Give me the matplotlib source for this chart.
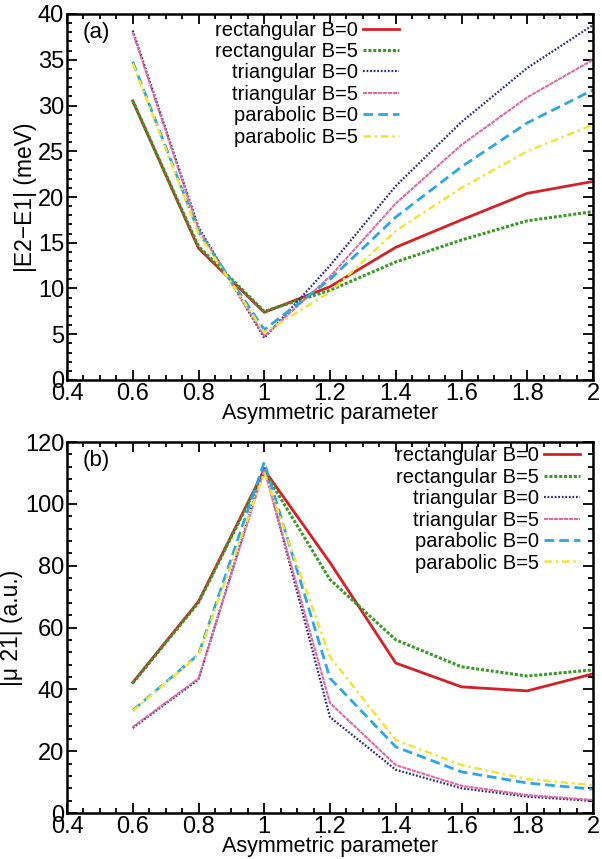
import matplotlib
matplotlib.use("Agg")
import matplotlib.pyplot as plt
from matplotlib.ticker import MultipleLocator, FuncFormatter

plt.rcParams['font.family'] = ['Liberation Sans', 'DejaVu Sans']

x = [0.6, 0.8, 1.0, 1.2, 1.4, 1.6, 1.8, 2.0]

labels = ["rectangular B=0", "rectangular B=5", "triangular B=0",
          "triangular B=5", "parabolic B=0", "parabolic B=5"]

# Panel (a): |E2-E1| (meV)
a_rect0 = [30.5, 14.4, 7.4, 10.2, 14.5, 17.5, 20.4, 21.7]
a_rect5 = [30.5, 14.6, 7.5, 9.8, 12.9, 15.3, 17.4, 18.4]
a_tri0 = [38.2, 16.7, 4.6, 12.5, 21.2, 28.2, 34.1, 38.8]
a_tri5 = [38.0, 16.5, 4.8, 11.3, 19.3, 25.7, 30.9, 35.0]
a_para0 = [34.8, 16.2, 5.5, 11.0, 17.8, 23.3, 28.1, 31.7]
a_para5 = [34.6, 16.0, 5.2, 9.6, 16.3, 21.0, 25.0, 27.9]

# Panel (b): |mu 21| (a.u.)
b_rect0 = [42.2, 68.4, 111.0, 81.0, 48.5, 40.8, 39.5, 45.0]
b_rect5 = [42.0, 68.0, 110.5, 75.5, 56.0, 47.3, 44.3, 46.3]
b_tri0 = [27.5, 43.2, 112.0, 31.0, 14.0, 8.0, 5.3, 3.9]
b_tri5 = [27.8, 43.5, 111.0, 35.6, 15.5, 8.8, 5.8, 4.2]
b_para0 = [33.2, 51.3, 113.5, 43.6, 21.4, 13.3, 9.7, 7.7]
b_para5 = [33.0, 51.0, 110.0, 50.5, 23.6, 15.5, 11.0, 9.0]

styles = [
    dict(color='#d42027', lw=2.0, ls='-'),
    dict(color='#3a9a28', lw=2.2, ls=(0, (1.0, 0.6))),
    dict(color='#2b2a7e', lw=1.6, ls=(0, (0.8, 0.8))),
    dict(color='#de6aa4', lw=1.5, ls=(0, (2.0, 0.4))),
    dict(color='#2ea6e2', lw=2.0, ls=(0, (3.5, 1.8))),
    dict(color='#f2e437', lw=1.8, ls=(0, (3.0, 1.5, 1.0, 1.5))),
]

fig = plt.figure(figsize=(6.02, 8.59), dpi=100)
axA = fig.add_axes([67/602, 1-380/859, 526/602, 366/859])
axB = fig.add_axes([67/602, 1-813/859, 526/602, 371/859])


def fmt_x(v, pos):
    if abs(v - round(v)) < 1e-9:
        return "%d" % round(v)
    return "%.1f" % v


def style_axes(ax, ymax, ymaj, ymin):
    ax.set_xlim(0.4, 2.0)
    ax.set_ylim(0, ymax)
    ax.xaxis.set_major_locator(MultipleLocator(0.2))
    ax.xaxis.set_minor_locator(MultipleLocator(0.05))
    ax.yaxis.set_major_locator(MultipleLocator(ymaj))
    ax.yaxis.set_minor_locator(MultipleLocator(ymin))
    ax.xaxis.set_major_formatter(FuncFormatter(fmt_x))
    ax.tick_params(which='both', direction='in', top=True, right=True,
                   width=1.3, labelsize=17, pad=2)
    ax.tick_params(which='major', length=7)
    ax.tick_params(which='minor', length=3.5)
    for s in ax.spines.values():
        s.set_linewidth(1.8)
    ax.set_xlabel("Asymmetric parameter", fontsize=15.5, labelpad=-1)


seriesA = [a_rect0, a_rect5, a_tri0, a_tri5, a_para0, a_para5]
seriesB = [b_rect0, b_rect5, b_tri0, b_tri5, b_para0, b_para5]

for ys, lab, st in zip(seriesA, labels, styles):
    axA.plot(x, ys, label=lab, **st)
for ys, lab, st in zip(seriesB, labels, styles):
    axB.plot(x, ys, label=lab, **st)

style_axes(axA, 40, 5, 1)
style_axes(axB, 120, 20, 4)

axA.set_ylabel("|E2\u2212E1| (meV)", fontsize=16.5, labelpad=1)
axB.set_ylabel("|\u03bc 21| (a.u.)", fontsize=16.5, labelpad=1)

axA.text(0.03, 0.95, "(a)", transform=axA.transAxes, fontsize=16,
         ha='left', va='center')
axB.text(0.03, 0.95, "(b)", transform=axB.transAxes, fontsize=16,
         ha='left', va='center')

legkw = dict(frameon=False, markerfirst=False, fontsize=14.5, labelspacing=0.12,
             handlelength=1.8, handletextpad=0.25, borderpad=0.0,
             borderaxespad=0.0, loc='upper right')
axA.legend(bbox_to_anchor=(0.632, 0.982), **legkw)
axB.legend(bbox_to_anchor=(0.975, 0.988), **legkw)

fig.savefig("out.png", dpi=100)
